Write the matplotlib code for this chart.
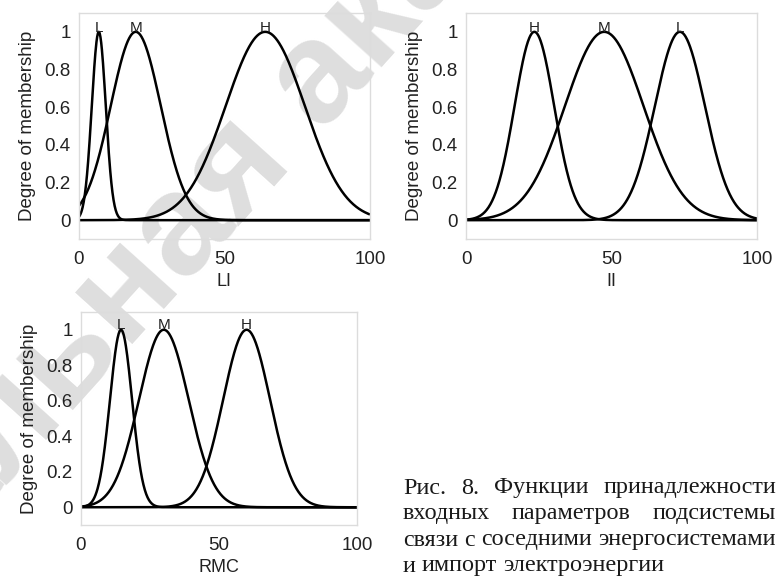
import numpy as np
import matplotlib
matplotlib.use("Agg")
import matplotlib.pyplot as plt

# gaussian membership functions: centre and width of each term
li_names = ['L', 'M', 'H']
li_centers = [6.8, 19.5, 64.0]
li_sigmas = [2.4, 8.6, 13.6]

ii_names = ['H', 'M', 'L']
ii_centers = [23.5, 47.5, 73.5]
ii_sigmas = [6.8, 13.5, 8.6]

rmc_names = ['L', 'M', 'H']
rmc_centers = [14.5, 30.0, 60.0]
rmc_sigmas = [4.0, 9.0, 8.5]

y_ticks = [0, 0.2, 0.4, 0.6, 0.8, 1]
y_ticklabels = ['0', '0.2', '0.4', '0.6', '0.8', '1']
x_ticks = [0, 50, 100]

caption_lines = ["Рис. 8. Функции принадлежности",
                 "входных параметров подсистемы",
                 "связи с соседними энергосистемами",
                 "и импорт электроэнергии"]

plt.rcParams['font.family'] = ['Liberation Sans', 'DejaVu Sans']

W, H = 778, 577
fig = plt.figure(figsize=(W / 100, H / 100), dpi=100)


def gaussmf(x, c, s):
    return np.exp(-(x - c) ** 2 / (2 * s ** 2))


def mf_panel(rect, names, centers, sigmas, xlabel):
    ax = fig.add_axes(rect)
    ax.patch.set_visible(False)
    x = np.linspace(0, 100, 801)
    for name, c, s in zip(names, centers, sigmas):
        ax.plot(x, gaussmf(x, c, s), color='black', lw=1.8, solid_capstyle='butt')
        ax.text(c, 0.985, name, ha='center', va='bottom', fontsize=11, color='#222222')
    ax.set_xlim(0, 100)
    ax.set_ylim(-0.1, 1.1)
    ax.set_xticks(x_ticks)
    ax.set_yticks(y_ticks)
    ax.set_yticklabels(y_ticklabels)
    ax.tick_params(length=0, labelsize=13.5, labelcolor='#222222')
    ax.tick_params(axis='x', pad=9)
    ax.tick_params(axis='y', pad=6)
    for sp in ax.spines.values():
        sp.set_color('#dcdcdc')
        sp.set_linewidth(1.0)
    ax.set_xlabel(xlabel, fontsize=13, color='#222222', labelpad=3)
    ax.set_ylabel('Degree of membership', fontsize=13.5, color='#222222', labelpad=6)
    return ax


def px_rect(x0, x1, ytop, ybot):
    return [x0 / W, (H - ybot) / H, (x1 - x0) / W, (ybot - ytop) / H]


mf_panel(px_rect(79, 370, 13, 239), li_names, li_centers, li_sigmas, 'LI')
mf_panel(px_rect(466, 757, 13, 239), ii_names, ii_centers, ii_sigmas, 'II')
mf_panel(px_rect(81, 357, 312, 525), rmc_names, rmc_centers, rmc_sigmas, 'RMC')

renderer = fig.canvas.get_renderer()

# faint diagonal watermark behind the panels
ang = 48.0
wm_font = dict(fontsize=104, fontweight='bold', color='#dedede', family='Liberation Sans')
probe = fig.text(0, 0, "Националь", **wm_font)
pre_w = probe.get_window_extent(renderer).width
probe.remove()
px, py = 126.0, H - 351.0
u = np.array([np.cos(np.radians(ang)), np.sin(np.radians(ang))])
sx, sy = np.array([px, py]) - pre_w * u
fig.text(sx / W, sy / H, "Национальная академия наук", rotation=ang,
         rotation_mode='anchor', ha='left', va='baseline', zorder=-5, **wm_font)

# justified caption block
x_left, x_right = 403, 776
line_y = [488, 514, 540, 566]


def word_width(w, size):
    t = fig.text(0, 0, w, fontsize=size, family='Liberation Serif')
    wd = t.get_window_extent(renderer).width
    t.remove()
    return wd


# size the serif text so the longest line fills the column
cap_size = 10 * (x_right - x_left) / word_width(caption_lines[2], 10)
cap_font = dict(fontsize=cap_size, family='Liberation Serif', color='#1a1a1a')

space_w = word_width("x x", cap_size) - word_width("xx", cap_size)
for i, (line, yc) in enumerate(zip(caption_lines, line_y)):
    words = line.split()
    widths = [word_width(w, cap_size) for w in words]
    if i < len(caption_lines) - 1 and len(words) > 1:
        gap = (x_right - x_left - sum(widths)) / (len(words) - 1)
    else:
        gap = space_w
    xpos = x_left
    for w, wd in zip(words, widths):
        fig.text(xpos / W, (H - yc) / H, w, ha='left', va='center', **cap_font)
        xpos += wd + gap

fig.savefig('out.png', dpi=100)
